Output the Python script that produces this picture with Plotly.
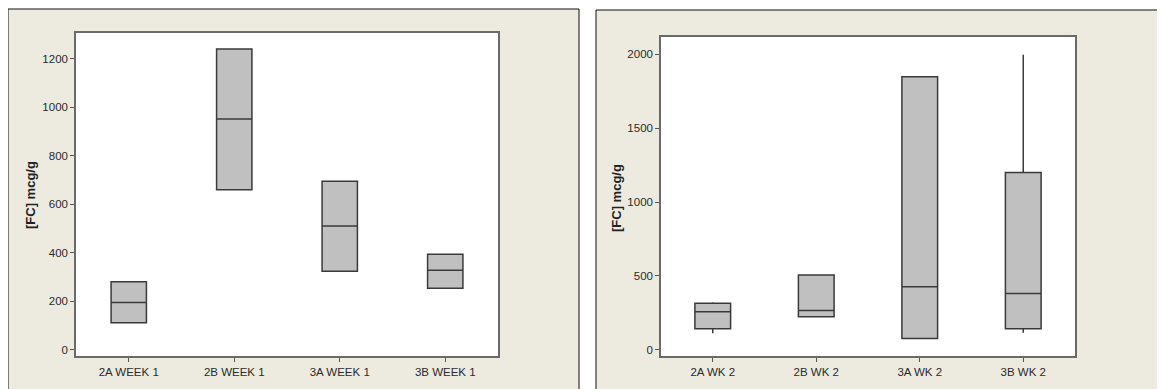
import plotly.graph_objects as go

# page has an 8px body margin; figure coordinates are shifted to compensate
OFF = 8
W, H = 1157, 389

# ---- data ----
cats_w1 = ["2A WEEK 1", "2B WEEK 1", "3A WEEK 1", "3B WEEK 1"]
q1_w1 = [112, 660, 324, 254]
med_w1 = [195, 951, 510, 328]
q3_w1 = [281, 1239, 695, 394]
lo_w1 = [112, 660, 324, 254]
hi_w1 = [281, 1239, 695, 394]

cats_w2 = ["2A WK 2", "2B WK 2", "3A WK 2", "3B WK 2"]
q1_w2 = [144, 225, 77, 144]
med_w2 = [259, 266, 428, 381]
q3_w2 = [316, 507, 1847, 1200]
lo_w2 = [113, 225, 77, 117]
hi_w2 = [323, 507, 1847, 1996]

yticks_w1 = [0, 200, 400, 600, 800, 1000, 1200]
yticks_w2 = [0, 500, 1000, 1500, 2000]
ytitle = "[FC] mcg/g"

BEIGE = "#EDEAE0"
BOXFILL = "#C0C0C0"
BOXLINE = "#3A3A3A"
FONT = "Liberation Sans"

fig = go.Figure()

fig.add_trace(go.Box(
    x=cats_w1, q1=q1_w1, median=med_w1, q3=q3_w1,
    lowerfence=lo_w1, upperfence=hi_w1,
    fillcolor=BOXFILL, line=dict(color=BOXLINE, width=1.5),
    width=0.335, whiskerwidth=0, boxpoints=False,
    xaxis="x", yaxis="y", showlegend=False))

fig.add_trace(go.Box(
    x=cats_w2, q1=q1_w2, median=med_w2, q3=q3_w2,
    lowerfence=lo_w2, upperfence=hi_w2,
    fillcolor=BOXFILL, line=dict(color=BOXLINE, width=1.5),
    width=0.345, whiskerwidth=0, boxpoints=False,
    xaxis="x2", yaxis="y2", showlegend=False))


def px_x(v):
    return (v - OFF) / W


def px_y(v):
    return 1 - (v - OFF) / H


# plot area pixel boxes (page coordinates)
L1 = (76, 33, 498, 356)
L2 = (661, 37, 1075, 356)

axis_common = dict(
    showline=True, mirror=True, linecolor="#6A6A6A", linewidth=1.5,
    ticks="outside", ticklen=4, tickcolor="#555555", tickwidth=1,
    showgrid=False, zeroline=False,
    tickfont=dict(family=FONT, size=11.5, color="#2A2A2A"),
)

fig.update_layout(
    width=W, height=H,
    margin=dict(l=0, r=0, t=0, b=0),
    paper_bgcolor="white",
    plot_bgcolor="rgba(0,0,0,0)",
    xaxis=dict(domain=[px_x(L1[0]), px_x(L1[2])], anchor="y",
               categoryorder="array", categoryarray=cats_w1,
               range=[-0.5, 3.5], **axis_common),
    yaxis=dict(domain=[px_y(L1[3]), px_y(L1[1])], anchor="x",
               range=[-25, 1305], tickvals=yticks_w1, **axis_common),
    xaxis2=dict(domain=[px_x(L2[0]), px_x(L2[2])], anchor="y2",
                categoryorder="array", categoryarray=cats_w2,
                range=[-0.5, 3.5], **axis_common),
    yaxis2=dict(domain=[px_y(L2[3]), px_y(L2[1])], anchor="x2",
                range=[-41, 2116], tickvals=yticks_w2, **axis_common),
    shapes=[
        dict(type="rect", xref="paper", yref="paper", layer="below",
             x0=px_x(8), x1=px_x(579), y0=px_y(400), y1=px_y(9),
             fillcolor=BEIGE, line=dict(color="#111111", width=1)),
        dict(type="rect", xref="paper", yref="paper", layer="below",
             x0=px_x(596), x1=px_x(1160), y0=px_y(400), y1=px_y(10),
             fillcolor=BEIGE, line=dict(color="#111111", width=1)),
        dict(type="rect", xref="paper", yref="paper", layer="below",
             x0=px_x(L1[0]), x1=px_x(L1[2]), y0=px_y(L1[3]), y1=px_y(L1[1]),
             fillcolor="white", line=dict(width=0)),
        dict(type="rect", xref="paper", yref="paper", layer="below",
             x0=px_x(L2[0]), x1=px_x(L2[2]), y0=px_y(L2[3]), y1=px_y(L2[1]),
             fillcolor="white", line=dict(width=0)),
    ],
    annotations=[
        dict(text=ytitle, xref="paper", yref="paper", x=px_x(30), y=px_y(195),
             showarrow=False, textangle=-90, xanchor="center", yanchor="middle",
             font=dict(family=FONT, size=13, color="#222222", weight="bold")),
        dict(text=ytitle, xref="paper", yref="paper", x=px_x(617), y=px_y(198),
             showarrow=False, textangle=-90, xanchor="center", yanchor="middle",
             font=dict(family=FONT, size=13, color="#222222", weight="bold")),
    ],
)

fig.write_html("out.html")
